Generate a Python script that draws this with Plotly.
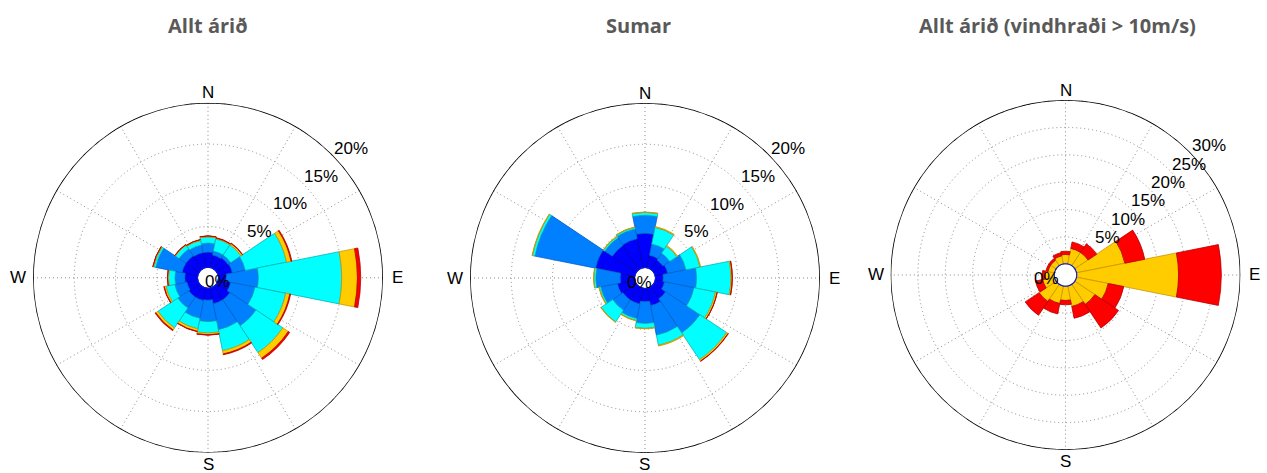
import math
import plotly.graph_objects as go

# ---------------- data ----------------
directions = ['N', 'NNE', 'NE', 'ENE', 'E', 'ESE', 'SE', 'SSE',
              'S', 'SSW', 'SW', 'WSW', 'W', 'WNW', 'NW', 'NNW']
dir_deg = [0, 22.5, 45, 67.5, 90, 112.5, 135, 157.5,
           180, 202.5, 225, 247.5, 270, 292.5, 315, 337.5]

# Panel 1: "Allt árið" - frequency (%) per speed class, stacked
p1_bin1 = [1.9, 1.6, 1.7, 1.8, 1.0, 1.6, 2.0, 2.0, 1.5, 1.6, 1.6, 1.4, 1.6, 2.0, 2.0, 1.9]
p1_bin2 = [1.1, 0.5, 0.4, 1.6, 3.9, 3.0, 3.8, 3.2, 2.6, 2.2, 1.6, 1.5, 1.2, 3.25, 1.0, 0.95]
p1_bin3 = [0.75, 1.5, 1.5, 5.1, 10.1, 3.8, 3.9, 2.6, 1.4, 1.3, 2.9, 1.1, 0.8, 0.25, 0.55, 0.55]
p1_bin4 = [0.1, 0.1, 0.2, 0.55, 1.9, 0.5, 0.8, 0.4, 0.2, 0.3, 0.3, 0.2, 0.1, 0.1, 0.07, 0.1]
p1_bin5 = [0.02, 0.05, 0.05, 0.1, 0.4, 0.1, 0.2, 0.1, 0.05, 0.05, 0.1, 0.05, 0.02, 0.02, 0.03, 0.02]

# Panel 2: "Sumar"
p2_bin1 = [4.2, 1.6, 1.4, 1.6, 1.0, 1.2, 1.8, 2.2, 1.65, 2.0, 2.0, 2.2, 1.8, 4.9, 3.55, 3.65]
p2_bin2 = [2.2, 1.4, 1.0, 2.25, 4.05, 3.65, 5.0, 3.65, 2.65, 1.8, 1.5, 2.05, 2.95, 7.5, 1.1, 1.2]
p2_bin3 = [0.35, 2.05, 1.05, 1.75, 4.15, 2.65, 3.9, 1.25, 0.6, 0.25, 1.7, 0.2, 0.25, 0.3, 0.2, 0.2]
p2_bin4 = [0.05, 0.1, 0.1, 0.08, 0.15, 0.2, 0.2, 0.1, 0.05, 0.05, 0.05, 0.05, 0.03, 0.05, 0.05, 0.05]
p2_bin5 = [0.0, 0.0, 0.0, 0.0, 0.03, 0.02, 0.04, 0.0, 0.0, 0.0, 0.0, 0.0, 0.0, 0.0, 0.0, 0.0]

# Panel 3: "Allt árið (vindhraði > 10m/s)"
p3_bin1 = [1.8, 3.0, 3.0, 9.1, 18.7, 6.0, 4.5, 3.9, 2.7, 3.35, 3.85, 2.3, 1.8, 1.3, 1.3, 1.6]
p3_bin2 = [0.6, 1.2, 1.9, 3.7, 7.8, 2.9, 5.2, 2.2, 0.8, 1.95, 3.05, 1.35, 0.5, 0.4, 0.4, 0.6]

titles = ['Allt árið', 'Sumar', 'Allt árið (vindhraði > 10m/s)']
p12_ticks = [5, 10, 15, 20]
p3_ticks = [5, 10, 15, 20, 25, 30]
compass_ticks = list(range(0, 360, 30))
compass_labels = ['N', 'E', 'S', 'W']

# ---------------- styles ----------------
fill_colors = ['#0000FF', '#0080FF', '#00FFFF', '#FFCC00', '#FF0000']
edge_colors = ['#0000A8', '#0060C8', '#00B4B4', '#C89600', '#B40000']
p3_fill = ['#FFCC00', '#FF0000']
p3_edge = ['#C89600', '#B40000']

W, H = 1267, 473
R = 175.0
centers = [(208.0, 277.8), (645.0, 278.0), (1065.5, 275.0)]
hole_px = [10.0, 10.0, 10.7]
ranges = [20, 20, 30]
label_off_px = 18.0
label_ang = math.radians(42)
# offsets (px) of the compass letters from the rose centre: N, E, S, W
compass_off = [(0, -185), (189, 0), (0, 186.5), (-190, 0)]
grid_dash = '1px,3px'
grid_col = '#8a8a8a'
txt_font = dict(family='Liberation Sans, Arial', size=17, color='black')

fig = go.Figure()


def add_bars(sub, bins, fills, edges):
    for vals, fc, ec in zip(bins, fills, edges):
        fig.add_trace(go.Barpolar(
            r=vals, theta=dir_deg, width=[22.5] * len(dir_deg),
            marker=dict(color=fc, line=dict(color=ec, width=0.8)),
            subplot=sub, showlegend=False, hoverinfo='r+theta'))


add_bars('polar', [p1_bin1, p1_bin2, p1_bin3, p1_bin4, p1_bin5], fill_colors, edge_colors)
add_bars('polar2', [p2_bin1, p2_bin2, p2_bin3, p2_bin4, p2_bin5], fill_colors, edge_colors)
add_bars('polar3', [p3_bin1, p3_bin2], p3_fill, p3_edge)

ticks_all = [p12_ticks, p12_ticks, p3_ticks]
subs = ['polar', 'polar2', 'polar3']
circle_theta = [k * 0.5 for k in range(721)]
for i, sub in enumerate(subs):
    # blue ring around the centre hole
    fig.add_trace(go.Scatterpolar(
        r=[0] * len(circle_theta), theta=circle_theta, mode='lines',
        line=dict(color='#0818D8', width=2.2), subplot=sub,
        showlegend=False, hoverinfo='skip', cliponaxis=False))
    # solid outer circle at the top of the radial scale
    fig.add_trace(go.Scatterpolar(
        r=[ranges[i]] * len(circle_theta), theta=circle_theta, mode='lines',
        line=dict(color='black', width=1.7), subplot=sub,
        showlegend=False, hoverinfo='skip', cliponaxis=False))

layout = dict(
    width=W, height=H, paper_bgcolor='white', plot_bgcolor='white',
    margin=dict(l=0, r=0, t=0, b=0), showlegend=False,
)
annotations = []
for i, sub in enumerate(subs):
    cx, cy = centers[i]
    dom_x = [(cx - R) / W, (cx + R) / W]
    dom_y = [(H - cy - R) / H, (H - cy + R) / H]
    layout[sub] = dict(
        domain=dict(x=dom_x, y=dom_y),
        hole=hole_px[i] / R, bgcolor='white', barmode='stack', bargap=0,
        radialaxis=dict(range=[0, ranges[i]], tickvals=ticks_all[i][:-1],
                        showticklabels=False, ticks='', showline=False,
                        gridcolor=grid_col, griddash=grid_dash, gridwidth=1),
        angularaxis=dict(rotation=90, direction='clockwise',
                         tickvals=compass_ticks, showticklabels=False,
                         ticks='', showline=False,
                         gridcolor=grid_col, griddash=grid_dash, gridwidth=1),
    )
    # compass letters
    for lab, (dx, dy) in zip(compass_labels, compass_off):
        annotations.append(dict(
            text=lab, x=(cx + dx) / W, y=(H - cy - dy) / H,
            xref='paper', yref='paper', showarrow=False,
            xanchor='center', yanchor='middle', font=txt_font))
    # radial percentage labels, placed along the radial scale of this subplot
    px_per_unit = (R - hole_px[i]) / ranges[i]
    for t in ticks_all[i]:
        rp = hole_px[i] + t * px_per_unit + label_off_px
        annotations.append(dict(
            text=f'{t}%', x=(cx + rp * math.cos(label_ang)) / W,
            y=(H - cy + rp * math.sin(label_ang)) / H,
            xref='paper', yref='paper', showarrow=False,
            xanchor='center', yanchor='middle', font=txt_font))
    annotations.append(dict(
        text='0%', x=cx / W, y=(H - cy) / H, xref='paper', yref='paper',
        xshift=-5, yshift=-4, showarrow=False, font=txt_font))

title_x = [207.5, 638.0, 1057.0]
for tx, t in zip(title_x, titles):
    annotations.append(dict(
        text=f'<b>{t}</b>', x=tx / W, y=(H - 26) / H, xref='paper', yref='paper',
        showarrow=False, xanchor='center', yanchor='middle',
        font=dict(family='Open Sans, sans-serif', size=20, color='#595959')))

layout['annotations'] = annotations
fig.update_layout(**layout)
fig.write_html('out.html', config={'displayModeBar': False},
               post_script="document.body.style.margin='0px';")
